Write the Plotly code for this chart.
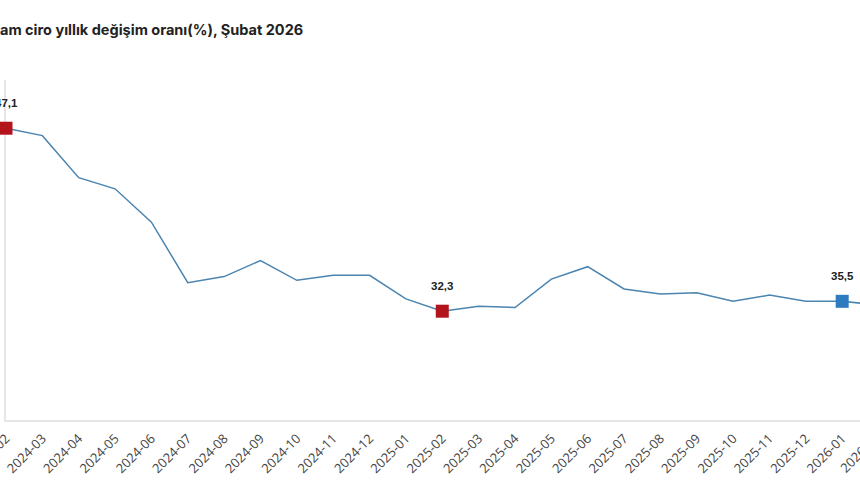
import plotly.graph_objects as go

title_text = "am ciro yıllık değişim oranı(%), Şubat 2026"

months = ["2024-02", "2024-03", "2024-04", "2024-05", "2024-06", "2024-07",
          "2024-08", "2024-09", "2024-10", "2024-11", "2024-12", "2025-01",
          "2025-02", "2025-03", "2025-04", "2025-05", "2025-06", "2025-07",
          "2025-08", "2025-09", "2025-10", "2025-11", "2025-12", "2026-01",
          "2026-02"]
values = [47.1, 46.5, 43.1, 42.2, 39.5, 34.6,
          35.1, 36.4, 34.8, 35.2, 35.2, 33.3,
          32.3, 32.7, 32.6, 34.9, 35.9, 34.1,
          33.7, 33.8, 33.1, 33.6, 33.1, 33.1,
          32.8]

red_months = ["2024-02", "2025-02"]
red_labels = ["47,1", "32,3"]
blue_months = ["2026-01"]
blue_labels = ["35,5"]

X_RANGE = [0, 23.49]
Y_RANGE = [23.5, 51.0]

val = dict(zip(months, values))

fig = go.Figure()
fig.add_trace(go.Scatter(
    x=months, y=values, mode="lines",
    line=dict(color="#4a84b0", width=1.5),
    hoverinfo="skip", showlegend=False))
fig.add_trace(go.Scatter(
    x=red_months, y=[val[m] for m in red_months], mode="markers",
    marker=dict(symbol="square", size=13, color="#b3141c"),
    cliponaxis=False, showlegend=False))
fig.add_trace(go.Scatter(
    x=blue_months, y=[val[m] for m in blue_months], mode="markers",
    marker=dict(symbol="square", size=13, color="#2f7bbf"),
    cliponaxis=False, showlegend=False))

for m, lab in list(zip(red_months, red_labels)) + list(zip(blue_months, blue_labels)):
    fig.add_annotation(x=m, y=val[m], xref="x", yref="y", text=lab,
                       showarrow=False, yshift=25, yanchor="middle",
                       font=dict(family="Liberation Sans, Arial", size=11.5,
                                 color="#222222", weight="bold"))

# tick label of the last month, which lies beyond the visible range
last_idx = len(months) - 1
px_frac = (last_idx - X_RANGE[0]) / (X_RANGE[1] - X_RANGE[0])
fig.add_annotation(x=px_frac, y=0, xref="paper", yref="paper",
                   text=months[-1], showarrow=False, textangle=-45,
                   xanchor="right", yanchor="top", yshift=-6, xshift=7,
                   font=dict(family="Open Sans", size=13, color="#444444"))

fig.add_annotation(x=0, y=1, xref="paper", yref="paper", text=title_text,
                   showarrow=False, xanchor="left", yanchor="middle",
                   xshift=-8, yshift=51,
                   font=dict(family="Inter, Roboto, Arial", size=14.5,
                             color="#222222", weight="bold"))

fig.update_layout(
    width=860, height=504,
    margin=dict(l=6, r=0, t=80, b=84, autoexpand=False),
    paper_bgcolor="white", plot_bgcolor="white",
    xaxis=dict(type="category", range=X_RANGE, dtick=1, tickangle=-45,
               showgrid=False, showline=True, linecolor="#e6e6e6",
               linewidth=1.5, ticks="", ticklabelstandoff=4,
               tickfont=dict(family="Open Sans", size=13, color="#444444"),
               zeroline=False, automargin=False, layer="below traces"),
    yaxis=dict(range=Y_RANGE, showgrid=False, showline=True,
               linecolor="#e6e6e6", linewidth=1.5, showticklabels=False,
               ticks="", zeroline=False, automargin=False,
               layer="below traces"),
)

fig.write_html("out.html", config={"displayModeBar": False},
               post_script="document.body.style.margin='0';document.body.style.overflow='hidden';")
